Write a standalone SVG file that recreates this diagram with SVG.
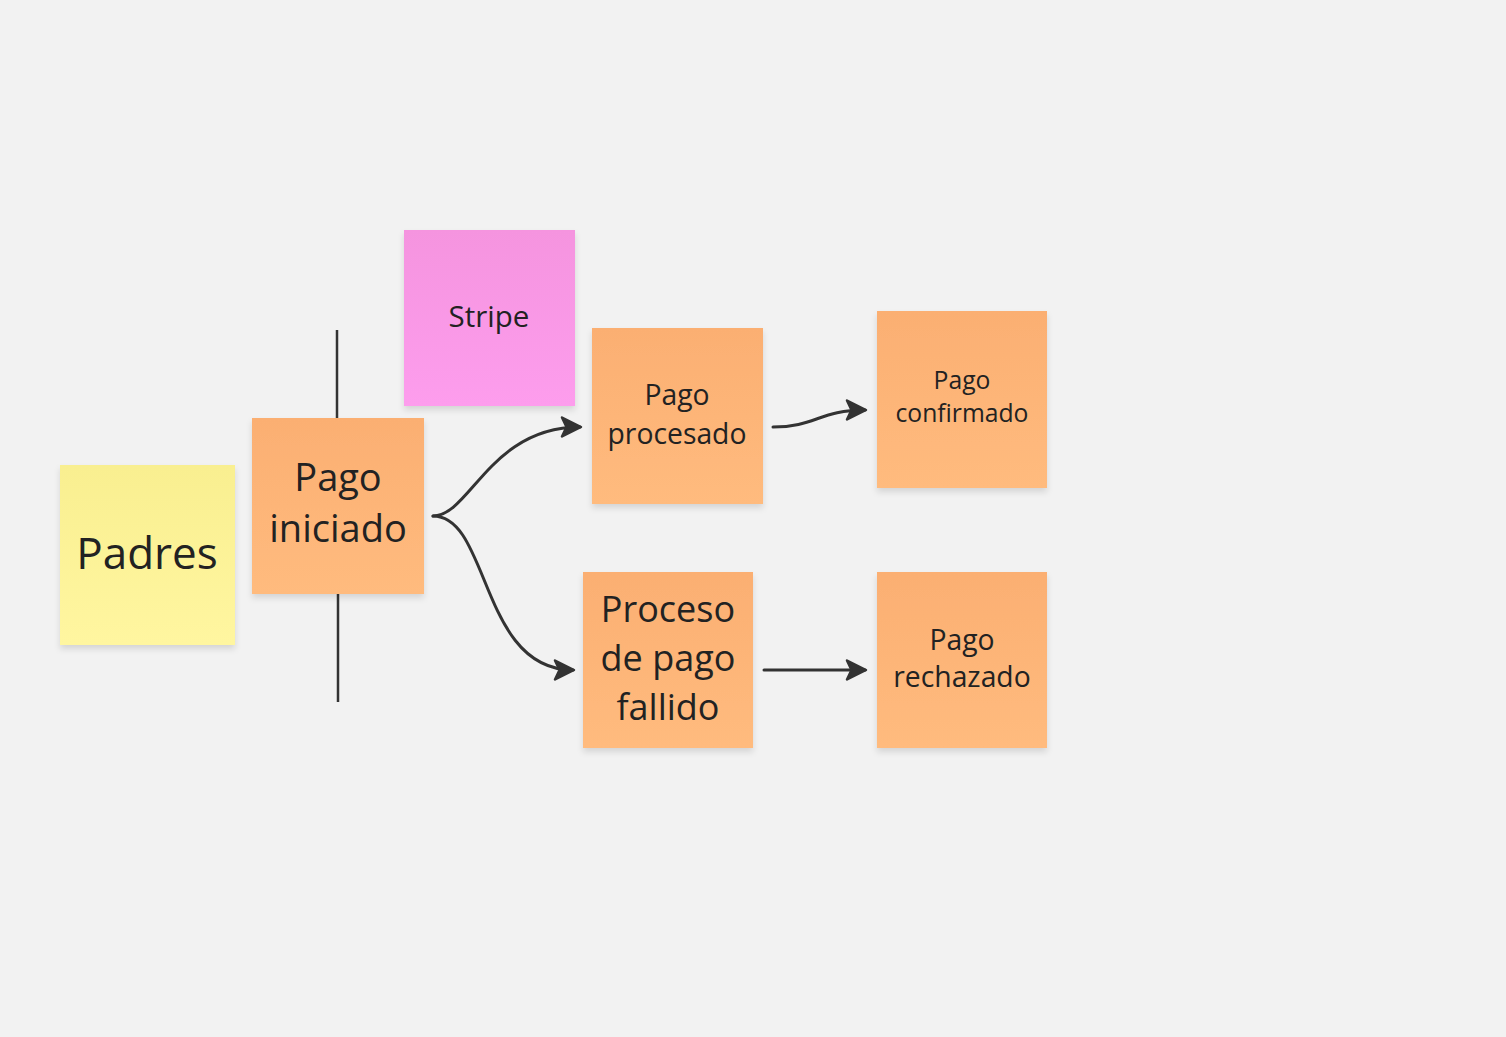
<svg xmlns="http://www.w3.org/2000/svg" width="1506" height="1037" viewBox="0 0 1506 1037">
<defs>
<linearGradient id="gOr" x1="0" y1="0" x2="0" y2="1"><stop offset="0" stop-color="#fbaf72"/><stop offset="1" stop-color="#ffbb7e"/></linearGradient>
<linearGradient id="gYe" x1="0" y1="0" x2="0" y2="1"><stop offset="0" stop-color="#f9ef90"/><stop offset="1" stop-color="#fff6a0"/></linearGradient>
<linearGradient id="gPk" x1="0" y1="0" x2="0" y2="1"><stop offset="0" stop-color="#f594df"/><stop offset="1" stop-color="#fd9ded"/></linearGradient>
<filter id="sh" x="-10%" y="-10%" width="120%" height="125%"><feDropShadow dx="0" dy="4" stdDeviation="3" flood-color="#000" flood-opacity="0.12"/></filter>
<marker id="arr" markerUnits="userSpaceOnUse" markerWidth="26" markerHeight="26" refX="20" refY="11" orient="auto">
<path d="M2,1.5 L21,11 L2,20.5 L6.5,11 Z" fill="#333" stroke="#333" stroke-width="2.5" stroke-linejoin="round"/>
</marker>
</defs>
<style>
text{font-family:"Open Sans","Noto Sans","Liberation Sans",sans-serif;fill:#222;text-anchor:middle}
.n rect{filter:url(#sh)}
.c{fill:none;stroke:#333;stroke-width:3;stroke-linecap:round}
</style>
<rect width="1506" height="1037" fill="#f2f2f2"/>
<g id="lines">
<line x1="337" y1="330" x2="337" y2="420" stroke="#333" stroke-width="2.5"/>
<line x1="338" y1="592" x2="338" y2="702" stroke="#333" stroke-width="2.5"/>
</g>
<g id="padres" class="n"><rect x="60" y="465" width="175" height="180" fill="url(#gYe)"/><text x="147" y="569" font-size="44">Padres</text></g>
<g id="stripe" class="n"><rect x="404" y="230" width="171" height="176" fill="url(#gPk)"/><text x="489" y="327" font-size="29.5">Stripe</text></g>
<g id="pago-iniciado" class="n"><rect x="252" y="418" width="172" height="176" fill="url(#gOr)"/><text x="338" y="491" font-size="38">Pago</text><text x="338" y="542" font-size="38">iniciado</text></g>
<g id="pago-procesado" class="n"><rect x="592" y="328" width="171" height="176" fill="url(#gOr)"/><text x="677" y="405" font-size="28.3">Pago</text><text x="677" y="444" font-size="28.3">procesado</text></g>
<g id="pago-confirmado" class="n"><rect x="877" y="311" width="170" height="177" fill="url(#gOr)"/><text x="962" y="389" font-size="24.7">Pago</text><text x="962" y="422" font-size="24.7">confirmado</text></g>
<g id="proceso-fallido" class="n"><rect x="583" y="572" width="170" height="176" fill="url(#gOr)"/><text x="668" y="622" font-size="36">Proceso</text><text x="668" y="671" font-size="36">de pago</text><text x="668" y="720" font-size="36">fallido</text></g>
<g id="pago-rechazado" class="n"><rect x="877" y="572" width="170" height="176" fill="url(#gOr)"/><text x="962" y="650" font-size="28.3">Pago</text><text x="962" y="687" font-size="28.3">rechazado</text></g>
<g id="connectors">
<path class="c" d="M433,516 C470,516 490,427 580,427" marker-end="url(#arr)"/>
<path class="c" d="M433,516 C490,516 480,670 573,670" marker-end="url(#arr)"/>
<path class="c" d="M773,427 C815,427 820,410 865,410" marker-end="url(#arr)"/>
<path class="c" d="M764,670 L865,670" marker-end="url(#arr)"/>
</g>
</svg>
